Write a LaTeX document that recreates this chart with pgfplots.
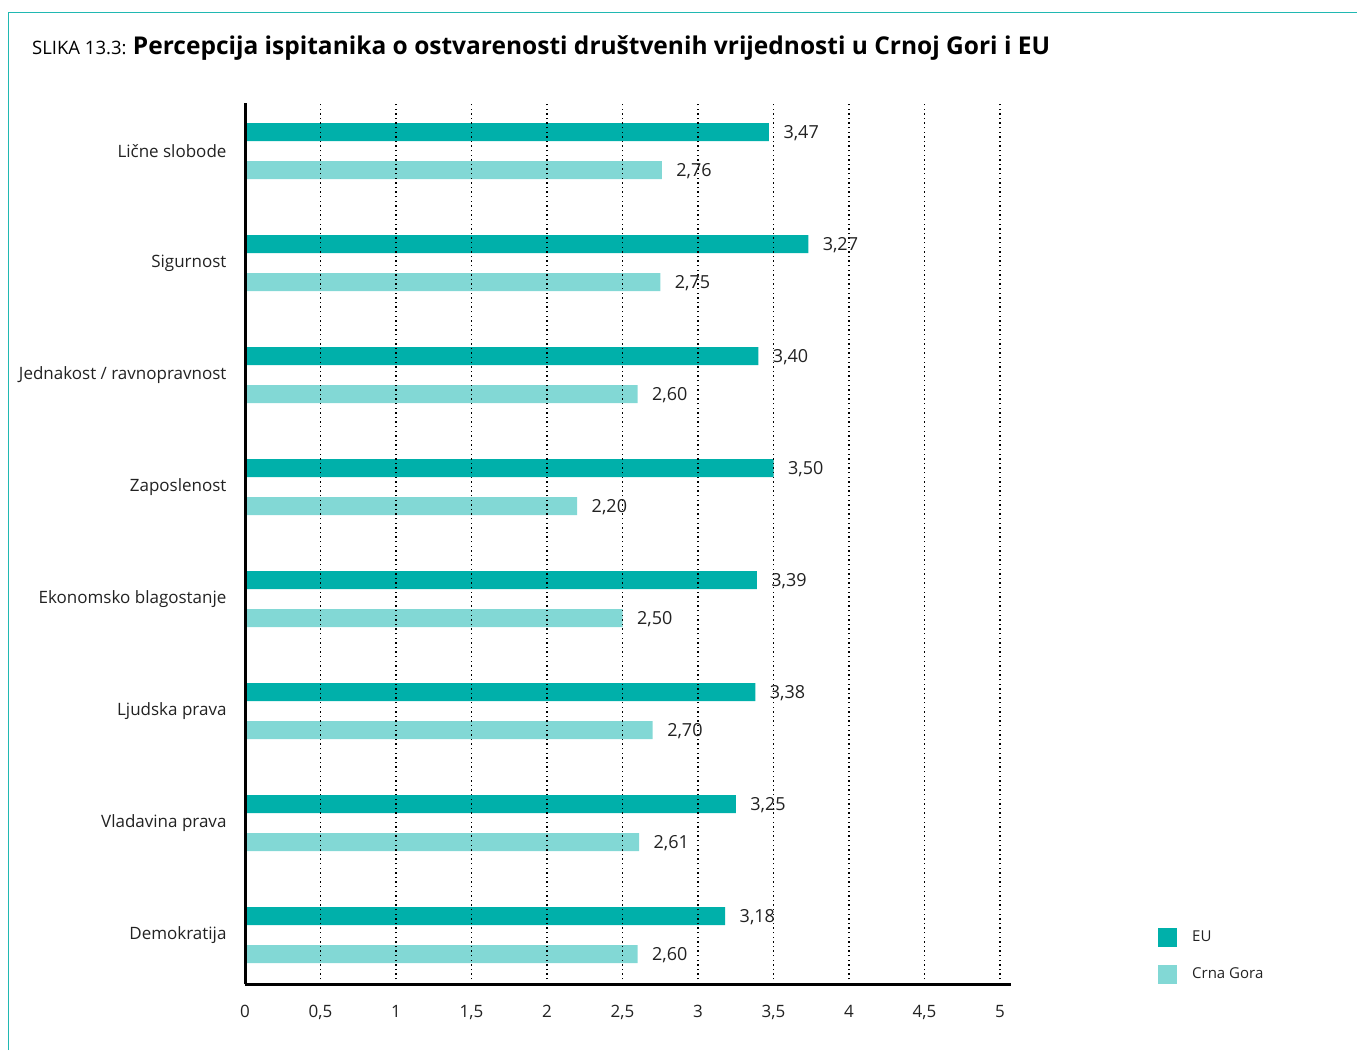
\documentclass[border=0pt]{standalone}
\usepackage{pgfplots}
\pgfplotsset{compat=1.18}
\usepackage{fontspec}
\setmainfont{Open Sans}
\definecolor{eu}{HTML}{00B0AA}
\definecolor{cg}{HTML}{82D8D5}
\definecolor{framec}{HTML}{20B8B2}
\definecolor{txt}{HTML}{222222}
\pgfplotstableread{
y x lab
7 3.47 3,47
6 3.73 3,27
5 3.40 3,40
4 3.50 3,50
3 3.39 3,39
2 3.38 3,38
1 3.25 3,25
0 3.18 3,18
}\eudata
\pgfplotstableread{
y x lab
7 2.76 2,76
6 2.75 2,75
5 2.60 2,60
4 2.20 2,20
3 2.50 2,50
2 2.70 2,70
1 2.61 2,61
0 2.60 2,60
}\cgdata
\begin{document}
\begin{tikzpicture}
\useasboundingbox (0,0) rectangle (1357pt,1050pt);
\draw[framec, line width=1.5pt] (8.5pt,0pt) -- (8.5pt,1037.5pt) -- (1357pt,1037.5pt);
\node[anchor=base west, inner sep=0pt, text=black] at (32pt,995pt) {\fontsize{18.5}{22}\selectfont SLIKA 13.3: \fontsize{24.5}{28}\selectfont\bfseries Percepcija ispitanika o ostvarenosti društvenih vrijednosti u Crnoj Gori i EU};
\begin{axis}[
  at={(245pt,66pt)}, anchor=south west,
  scale only axis, width=765.6pt, height=881pt,
  xmin=0, xmax=5.07, ymin=-0.4375, ymax=7.43,
  enlargelimits=false,
  xbar, bar width=18pt,
  axis x line=bottom, axis y line=left,
  axis line style={line width=3pt, -, black},
  xtick={0,0.5,...,5},
  /pgf/number format/use comma,
  /pgf/number format/assume math mode=true,
  ytick={0,1,2,3,4,5,6,7},
  yticklabels={Demokratija, Vladavina prava, Ljudska prava, Ekonomsko blagostanje, Zaposlenost, Jednakost / ravnopravnost, Sigurnost, Lične slobode},
  major tick length=0pt,
  xticklabel style={font=\fontsize{17}{20}\selectfont, text=txt, yshift=-18pt},
  yticklabel style={font=\fontsize{17}{20}\selectfont, text=txt, xshift=-15pt},
  xmajorgrids,
  grid style={black, line width=1.4pt, dash pattern=on 1.4pt off 3.2pt},
  axis on top,
  point meta=explicit symbolic,
  nodes near coords,
  nodes near coords style={font=\fontsize{18}{21}\selectfont, text=txt, anchor=west, xshift=11pt, yshift=-1pt},
  legend style={at={(axis description cs:1.1925,0)}, anchor=south west, draw=none, fill=none, inner sep=0pt, row sep=18pt, column sep=15pt, font=\fontsize{15}{18}\selectfont, text=txt, nodes={inner sep=0pt}},
  legend cell align=left,
  legend image code/.code={\fill[#1] (0pt,-9.5pt) rectangle (19pt,9.5pt);},
]
\addplot[fill=eu, draw=none, bar shift=19pt] table[x=x, y=y, meta=lab] {\eudata};
\addlegendentry{EU}
\addplot[fill=cg, draw=none, bar shift=-19pt] table[x=x, y=y, meta=lab] {\cgdata};
\addlegendentry{Crna Gora}
\end{axis}
\end{tikzpicture}
\end{document}
